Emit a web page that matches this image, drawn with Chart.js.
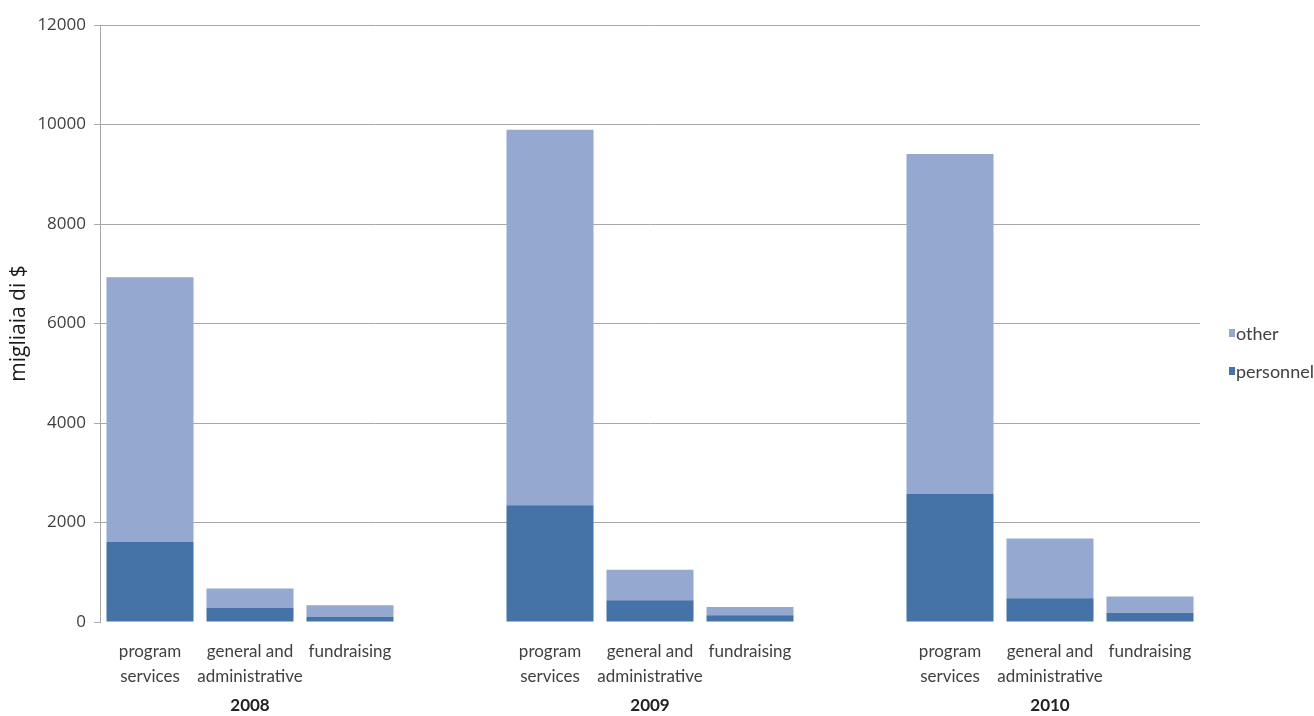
<!DOCTYPE html>
<html>
<head>
<meta charset="utf-8">
<script src="https://cdn.jsdelivr.net/npm/chart.js@4"></script>
<style>
  body { margin: 0; background: #ffffff; }
  canvas { display: block; }
</style>
</head>
<body>
<canvas id="spese" width="1314" height="716"></canvas>
<script>
// categories: three per year, an empty slot between the years
var categories = [
  ["program", "services"], ["general and", "administrative"], "fundraising", "",
  ["program", "services"], ["general and", "administrative"], "fundraising", "",
  ["program", "services"], ["general and", "administrative"], "fundraising"
];
var years = ["2008", "2009", "2010"];
// year label sits under the middle bar of each group
var yearSlots = [1, 5, 9];

// migliaia di $
var personnel = [1610, 280, 100, null, 2345, 435, 135, null, 2580, 475, 185];
var other = [5320, 395, 235, null, 7550, 615, 165, null, 6825, 1205, 330];

var yTicks = [0, 2000, 4000, 6000, 8000, 10000, 12000];

var personnelColor = "#4573a7";
var otherColor = "#95a9d0";
var gridColor = "#a8a8a8";
var textColor = "#404040";
var labelFont = "Lato, 'Liberation Sans', sans-serif";

var yearLabels = categories.map(function (c, i) {
  var k = yearSlots.indexOf(i);
  return k >= 0 ? years[k] : "";
});

// legend on the right, "other" above "personnel"
var sideLegend = {
  id: "sideLegend",
  afterDraw: function (chart) {
    var ctx = chart.ctx;
    var items = [
      { text: "other", color: otherColor, y: 333 },
      { text: "personnel", color: personnelColor, y: 371 }
    ];
    ctx.save();
    ctx.font = "18px " + labelFont;
    ctx.textBaseline = "middle";
    ctx.textAlign = "left";
    items.forEach(function (it) {
      ctx.fillStyle = it.color;
      ctx.fillRect(chart.chartArea.right + 29, it.y - 4, 6, 8);
      ctx.fillStyle = textColor;
      ctx.fillText(it.text, chart.chartArea.right + 36, it.y + 1);
    });
    ctx.restore();
  }
};

new Chart(document.getElementById("spese"), {
  type: "bar",
  data: {
    labels: categories,
    datasets: [
      {
        label: "personnel",
        data: personnel,
        backgroundColor: personnelColor,
        barPercentage: 0.87,
        categoryPercentage: 1.0
      },
      {
        label: "other",
        data: other,
        backgroundColor: otherColor,
        barPercentage: 0.87,
        categoryPercentage: 1.0
      }
    ]
  },
  options: {
    responsive: false,
    animation: false,
    layout: { padding: { top: 25, right: 114, left: 0, bottom: 0 } },
    plugins: {
      legend: { display: false },
      tooltip: { enabled: false }
    },
    scales: {
      x: {
        stacked: true,
        weight: 1,
        grid: { display: false, drawTicks: false },
        border: { display: false },
        ticks: {
          color: textColor,
          autoSkip: false,
          maxRotation: 0,
          padding: 17,
          font: { family: labelFont, size: 17, lineHeight: 1.47 }
        },
        afterFit: function (scale) { scale.height = 70; }
      },
      years: {
        type: "category",
        position: "bottom",
        labels: yearLabels,
        offset: true,
        weight: 2,
        grid: { display: false, drawTicks: false },
        border: { display: false },
        ticks: {
          color: "#222222",
          autoSkip: false,
          maxRotation: 0,
          padding: 3,
          font: { family: labelFont, size: 17, weight: "bold" }
        },
        afterFit: function (scale) { scale.height = 24; }
      },
      y: {
        stacked: true,
        min: 0,
        max: 12000,
        afterBuildTicks: function (scale) {
          scale.ticks = yTicks.map(function (v) { return { value: v }; });
        },
        grid: {
          color: function (c) { return c.tick && c.tick.value === 0 ? "rgba(0,0,0,0)" : gridColor; },
          tickColor: gridColor,
          tickLength: 6
        },
        border: { color: gridColor },
        ticks: {
          color: textColor,
          padding: 8,
          font: { family: "'Open Sans', sans-serif", size: 17 },
          callback: function (v) { return String(v); }
        },
        title: {
          display: true,
          text: "migliaia di $",
          color: "#1a1a1a",
          padding: { top: 6, bottom: 0 },
          font: { family: "'Open Sans', sans-serif", size: 21 }
        },
        afterFit: function (scale) { scale.width = 100; }
      }
    }
  },
  plugins: [sideLegend]
});
</script>
</body>
</html>
